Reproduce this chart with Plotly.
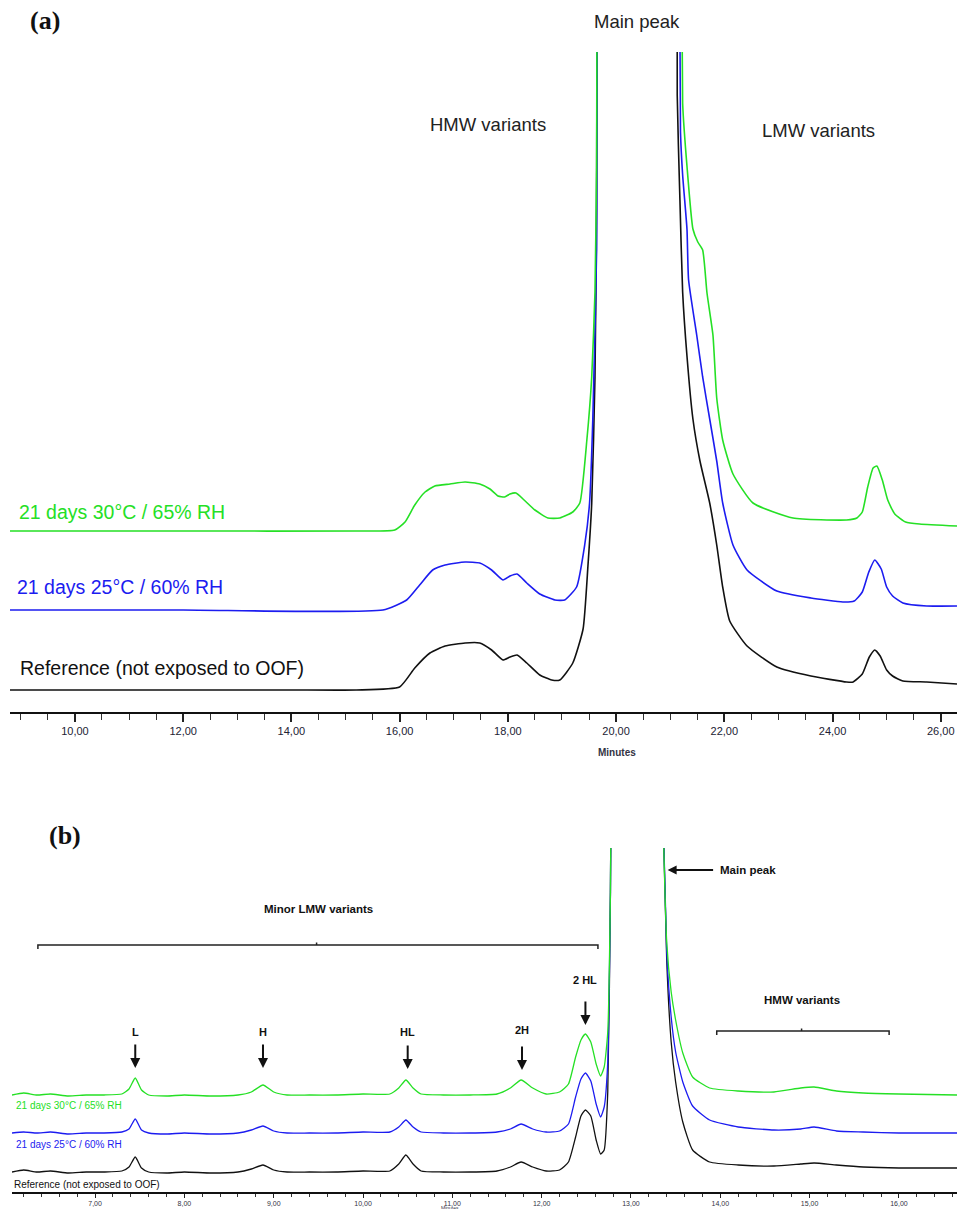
import plotly.graph_objects as go

W, H = 957, 1209

# ---------------- Panel (a) data (time in minutes, signal in arbitrary units) ----------------
a_green_t = [8.80, 12.00, 15.20, 15.91, 16.10, 16.28, 16.47, 16.65, 16.93, 17.21, 17.48, 17.67, 17.82, 17.94,
             18.04, 18.15, 18.30, 18.50, 18.74, 18.96, 19.20, 19.33, 19.46, 19.55, 19.61, 19.64, 19.70, 20.40,
             21.12, 21.23, 21.31, 21.42, 21.51, 21.60, 21.68, 21.79, 21.86, 21.97, 22.16, 22.53, 23.27, 24.26,
             24.45, 24.55, 24.65, 24.75, 24.82, 24.92, 25.02, 25.15, 25.35, 25.61, 26.30]
a_green_s = [181, 181, 181, 182, 190, 207, 220, 226, 228, 230, 228, 223, 216, 215,
             218, 219, 212, 202, 194, 194, 200, 209, 272, 335, 420, 546, 1400, 3000,
             1400, 609, 546, 483, 470, 462, 419, 377, 314, 272, 238, 209, 194, 192,
             194, 200, 225, 244, 246, 232, 212, 198, 190, 188, 186]

a_blue_t = [8.80, 12.00, 15.69, 16.13, 16.37, 16.61, 16.84, 17.21, 17.48, 17.70, 17.91, 18.04, 18.17, 18.35,
            18.59, 18.87, 19.05, 19.27, 19.42, 19.51, 19.57, 19.64, 19.70, 20.40, 21.10, 21.19, 21.23, 21.31,
            21.34, 21.49, 21.60, 21.73, 21.86, 21.97, 22.16, 22.42, 22.97, 23.60, 24.19, 24.40, 24.55, 24.67,
            24.78, 24.90, 25.00, 25.11, 25.30, 25.74, 26.30]
a_blue_s = [102, 102, 102, 112, 127, 142, 147, 150, 149, 142, 132, 136, 138, 129,
            118, 112, 112, 125, 167, 209, 293, 462, 1400, 3000, 1400, 580, 537, 483,
            432, 377, 335, 293, 251, 209, 167, 142, 121, 114, 110, 111, 120, 140,
            152, 143, 125, 116, 109, 106, 106]

a_black_t = [8.80, 10.00, 12.00, 14.00, 15.20, 16.00, 16.28, 16.56, 16.84, 17.21, 17.48, 17.70, 17.91, 18.04,
             18.17, 18.35, 18.59, 18.81, 18.96, 19.20, 19.39, 19.48, 19.55, 19.61, 19.64, 19.70, 20.40, 21.11,
             21.13, 21.18, 21.23, 21.31, 21.42, 21.55, 21.73, 21.86, 21.97, 22.10, 22.42, 22.97, 23.60, 24.26,
             24.38, 24.55, 24.68, 24.78, 24.88, 25.00, 25.11, 25.30, 25.74, 26.30]
a_black_s = [22, 22, 22, 22, 22, 25, 44, 59, 66, 69, 69, 62, 52, 55,
             57, 49, 37, 32, 32, 49, 83, 146, 209, 335, 504, 1400, 3000, 1400,
             617, 512, 420, 356, 293, 251, 209, 167, 125, 91, 66, 45, 36, 30,
             30, 38, 55, 62, 56, 42, 36, 31, 30, 28]

# ---------------- Panel (b) data ----------------
b_t = [6.07, 6.20, 6.35, 6.50, 6.70, 6.90, 7.10, 7.30, 7.38, 7.45, 7.52, 7.60, 7.80, 8.00, 8.30, 8.60,
       8.75, 8.88, 9.00, 9.15, 9.40, 9.70, 10.00, 10.30, 10.40, 10.48, 10.56, 10.65, 10.90, 11.20, 11.50,
       11.65, 11.77, 11.90, 12.05, 12.20, 12.30, 12.38, 12.44, 12.49, 12.55, 12.61, 12.66, 12.70, 12.74,
       12.77, 12.80, 13.05, 13.33, 13.40, 13.45, 13.50, 13.58, 13.69, 13.88, 14.20, 14.60, 14.90, 15.05,
       15.30, 15.60, 16.00, 16.65]
b_green_s = [97, 99, 97, 98, 96, 97, 97, 98, 103, 114, 102, 97, 96, 97, 96, 97,
             100, 107, 100, 97, 97, 97, 98, 98, 104, 112, 104, 98, 97, 97, 98,
             104, 112, 104, 98, 100, 108, 135, 152, 158, 150, 128, 116, 125, 160,
             300, 700, 2200, 500, 250, 200, 172, 139, 115, 104, 101, 100, 104, 105,
             101, 99, 98, 97]
b_blue_s = [59, 60, 59, 60, 58, 59, 59, 60, 63, 73, 62, 59, 58, 59, 58, 59,
            62, 66, 61, 59, 59, 59, 60, 60, 65, 72, 65, 60, 59, 59, 60,
            63, 68, 63, 60, 61, 68, 95, 113, 119, 111, 88, 75, 85, 130,
            300, 700, 2200, 500, 240, 175, 140, 110, 86, 72, 65, 62, 63, 65,
            61, 60, 59, 59]
b_black_s = [20, 22, 20, 21, 19, 20, 20, 21, 25, 35, 24, 20, 19, 20, 19, 20,
             23, 27, 22, 20, 20, 20, 21, 21, 28, 37, 28, 21, 20, 20, 21,
             25, 30, 25, 21, 22, 30, 55, 76, 82, 76, 52, 38, 42, 100,
             300, 700, 2200, 500, 232, 150, 110, 70, 42, 30, 27, 26, 28, 29,
             27, 25, 24, 24]

series_labels = ["21 days 30°C / 65% RH", "21 days 25°C / 60% RH", "Reference (not exposed to OOF)"]
variant_labels = ["L", "H", "HL", "2H", "2HL"]
variant_times = [7.45, 8.88, 10.50, 11.78, 12.49]

GREEN = "#25e025"
BLUE = "#1c1cf0"
BLACK = "#111111"

def px(x):
    return x / W

def py(y):
    return (H - y) / H

fig = go.Figure()

# Panel (a)
for t, s, c in [(a_black_t, a_black_s, BLACK), (a_blue_t, a_blue_s, BLUE), (a_green_t, a_green_s, GREEN)]:
    fig.add_trace(go.Scatter(x=t, y=s, mode="lines", line=dict(color=c, width=1.6, shape="spline", smoothing=0.5),
                             xaxis="x", yaxis="y", hoverinfo="skip"))
# Panel (b)
for s, c in [(b_black_s, BLACK), (b_blue_s, BLUE), (b_green_s, GREEN)]:
    fig.add_trace(go.Scatter(x=b_t, y=s, mode="lines", line=dict(color=c, width=1.3, shape="spline", smoothing=0.5),
                             xaxis="x2", yaxis="y2", hoverinfo="skip"))

ann = []
def text(x, y, t, size, color="#111", bold=False, family="Liberation Sans", xanchor="center"):
    ann.append(dict(x=px(x), y=py(y), xref="paper", yref="paper", text=(f"<b>{t}</b>" if bold else t),
                    showarrow=False, xanchor=xanchor, yanchor="middle",
                    font=dict(size=size, color=color, family=family)))

# Panel (a) texts
text(45, 20, "(a)", 26, bold=True, family="Liberation Serif")
text(637, 21, "Main peak", 18.5, color="#222")
text(488, 125, "HMW variants", 18.5, color="#222")
text(818, 130, "LMW variants", 18.5, color="#222")
text(17, 512, series_labels[0], 19.5, color=GREEN, xanchor="left")
text(15, 587, series_labels[1], 19.5, color=BLUE, xanchor="left")
text(18, 668, series_labels[2], 19.5, color="#111", xanchor="left")
text(617, 752, "Minutes", 10, color="#334", bold=True)

# Panel (b) texts
text(65, 835, "(b)", 26, bold=True, family="Liberation Serif")
text(318, 909, "Minor LMW variants", 11.5, bold=True)
text(718, 870, "Main peak", 11.5, bold=True, xanchor="left")
text(802, 1000, "HMW variants", 11.5, bold=True)
text(14, 1105, series_labels[0], 10, color=GREEN, xanchor="left")
text(14, 1144, series_labels[1], 10, color=BLUE, xanchor="left")
text(12, 1184, series_labels[2], 10, color="#111", xanchor="left")
text(450, 1207.5, "Minutes", 5, color="#334")

label_y = [124 + 36, 124 + 36, 123 + 37, 122 + 40, 167 + 45]  # signal units in panel b
arrow_head = [124, 124, 123, 122, 167]
for lab, tm, ly, ah in zip(variant_labels, variant_times, label_y, arrow_head):
    disp = "2 HL" if lab == "2HL" else lab
    ann.append(dict(x=tm, y=ly, xref="x2", yref="y2", text=f"<b>{disp}</b>", showarrow=False,
                    font=dict(size=11, color="#111", family="Liberation Sans"), yanchor="middle"))
    ann.append(dict(x=tm, y=ah, xref="x2", yref="y2", text="", showarrow=True, ax=0, ay=-25,
                    arrowhead=2, arrowsize=1, arrowwidth=2, arrowcolor="#111"))
# Main peak arrow (b)
ann.append(dict(x=13.41, y=322, xref="x2", yref="y2", text="", showarrow=True, ax=47, ay=0,
                arrowhead=2, arrowsize=1, arrowwidth=1.8, arrowcolor="#111"))

shapes = []
def bracket(x0, x1, y, xc):
    shapes.append(dict(type="path", xref="x2", yref="y2",
                       path=f"M {x0},{y-4} L {x0},{y} L {x1},{y} L {x1},{y-4}",
                       line=dict(color="#222", width=1.5)))
    shapes.append(dict(type="line", xref="x2", yref="y2", x0=xc, x1=xc, y0=y, y1=y + 2.5,
                       line=dict(color="#222", width=1.5)))
bracket(6.36, 12.63, 247, 9.48)
bracket(13.96, 15.89, 161, 14.91)

axis_common = dict(showgrid=False, zeroline=False, showline=True, linecolor="#111", ticks="outside",
                   tickcolor="#222", tickformat=".2f")

fig.update_layout(
    width=W, height=H, margin=dict(l=0, r=0, t=0, b=0),
    paper_bgcolor="white", plot_bgcolor="white", showlegend=False,
    separators=",.",
    xaxis=dict(domain=[10 / W, 1], range=[8.80, 26.30], anchor="y", linewidth=2, ticklen=8, tickwidth=1.5,
               tick0=10, dtick=2, tickfont=dict(size=11, color="#223", family="Liberation Sans"),
               minor=dict(ticks="outside", dtick=0.5, ticklen=6, tickcolor="#333", tickwidth=1.2),
               **axis_common),
    yaxis=dict(domain=[py(712), py(52)], range=[0, 660], visible=False),
    xaxis2=dict(domain=[12 / W, 1], range=[6.07, 16.65], anchor="y2", linewidth=1.5, ticklen=4, tickwidth=1.2,
                tick0=7, dtick=1, tickfont=dict(size=7, color="#334", family="Liberation Sans"),
                minor=dict(ticks="outside", dtick=0.2, ticklen=3, tickcolor="#333", tickwidth=1),
                **axis_common),
    yaxis2=dict(domain=[py(1192), py(848)], range=[0, 344], visible=False),
    annotations=ann, shapes=shapes,
)

fig.write_html("out.html", config={"displayModeBar": False},
               post_script="document.body.style.margin='0';document.body.style.overflow='hidden';")
